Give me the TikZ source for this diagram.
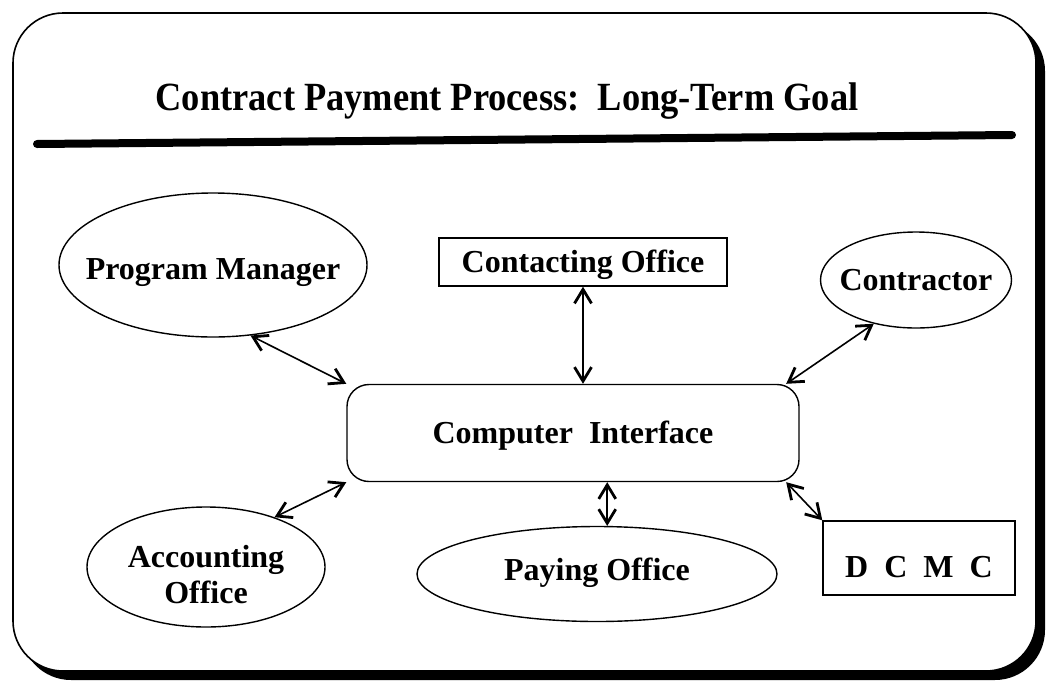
\documentclass[tikz,border=0pt]{standalone}
\usepackage{fontspec}
\setmainfont{Liberation Serif}
\newfontfamily\headfamily[FakeStretch=0.91]{Liberation Serif}
\usepackage{tikz}
\usetikzlibrary{shapes.geometric,arrows.meta}
\usetikzlibrary{positioning}

\newcommand{\ovalfont}{\bfseries\fontsize{32}{36}\selectfont}
\newcommand{\headfont}{\headfamily\bfseries\fontsize{40}{46}\selectfont}

\begin{document}
\begin{tikzpicture}[x=1pt,y=-1pt,
            oval/.style={ellipse, draw, line width=1.4pt, inner xsep=-30pt, inner ysep=0pt, font=\ovalfont, align=center, text height=21pt, text depth=0pt},
            officebox/.style={rectangle, draw, line width=1.4pt, inner sep=0pt, font=\ovalfont, text height=21pt, text depth=0pt},
            link/.style={<->, line width=1.6pt, >={Straight Barb[length=14pt,width=17pt,line width=2.8pt]}}]
            \useasboundingbox (0,0) rectangle (1047,686);
            \fill[rounded corners=50pt] (21,21) rectangle (1045,680);
            \draw[fill=white, line width=1.6pt, rounded corners=50pt] (13,13) rectangle (1036,671);
            \node[font=\headfont, text height=27pt, text depth=0pt, inner sep=0pt] at (507,97) (title) {Contract Payment Process:\ \ Long-Term Goal};
            \draw[line width=8pt, line cap=round] (37,144) -- (1012,135);

            \node[oval, minimum width=308pt, minimum height=144pt, text height=28pt] at (213,265) (pm) {Program Manager};
            \node[officebox, minimum width=288pt, minimum height=48pt] at (583,262) (co) {Contacting Office};
            \node[oval, minimum width=191pt, minimum height=96pt] at (916,280) (ctr) {Contractor};
            \node[draw, rounded corners=22pt, line width=1.4pt, minimum width=452pt, minimum height=97pt, font=\ovalfont, text height=21pt, text depth=0pt] at (573,433) (ci) {Computer\ \ Interface};
            \node[oval, minimum width=238pt, minimum height=120pt, text height=72pt] at (206,567) (acc) {Accounting\\Office};
            \node[oval, minimum width=360pt, minimum height=95pt, text height=12pt] at (597,574) (pay) {Paying Office};
            \node[officebox, minimum width=192pt, minimum height=74pt, text height=38pt] at (919,558) (dcmc) {D\ \ C\ \ M\ \ C};

            \draw[link] (pm.-62) -- (ci.north west);
            \draw[link] (co.south) -- (co.south |- ci.north);
            \draw[link] (ctr.-134) -- (ci.13.5);
            \draw[link] (acc.36) -- (ci.south west);
            \draw[link] (pay.78) -- (pay.78 |- ci.south);
            \draw[link] (dcmc.north west) -- (ci.-13);
        \end{tikzpicture}
\end{document}
